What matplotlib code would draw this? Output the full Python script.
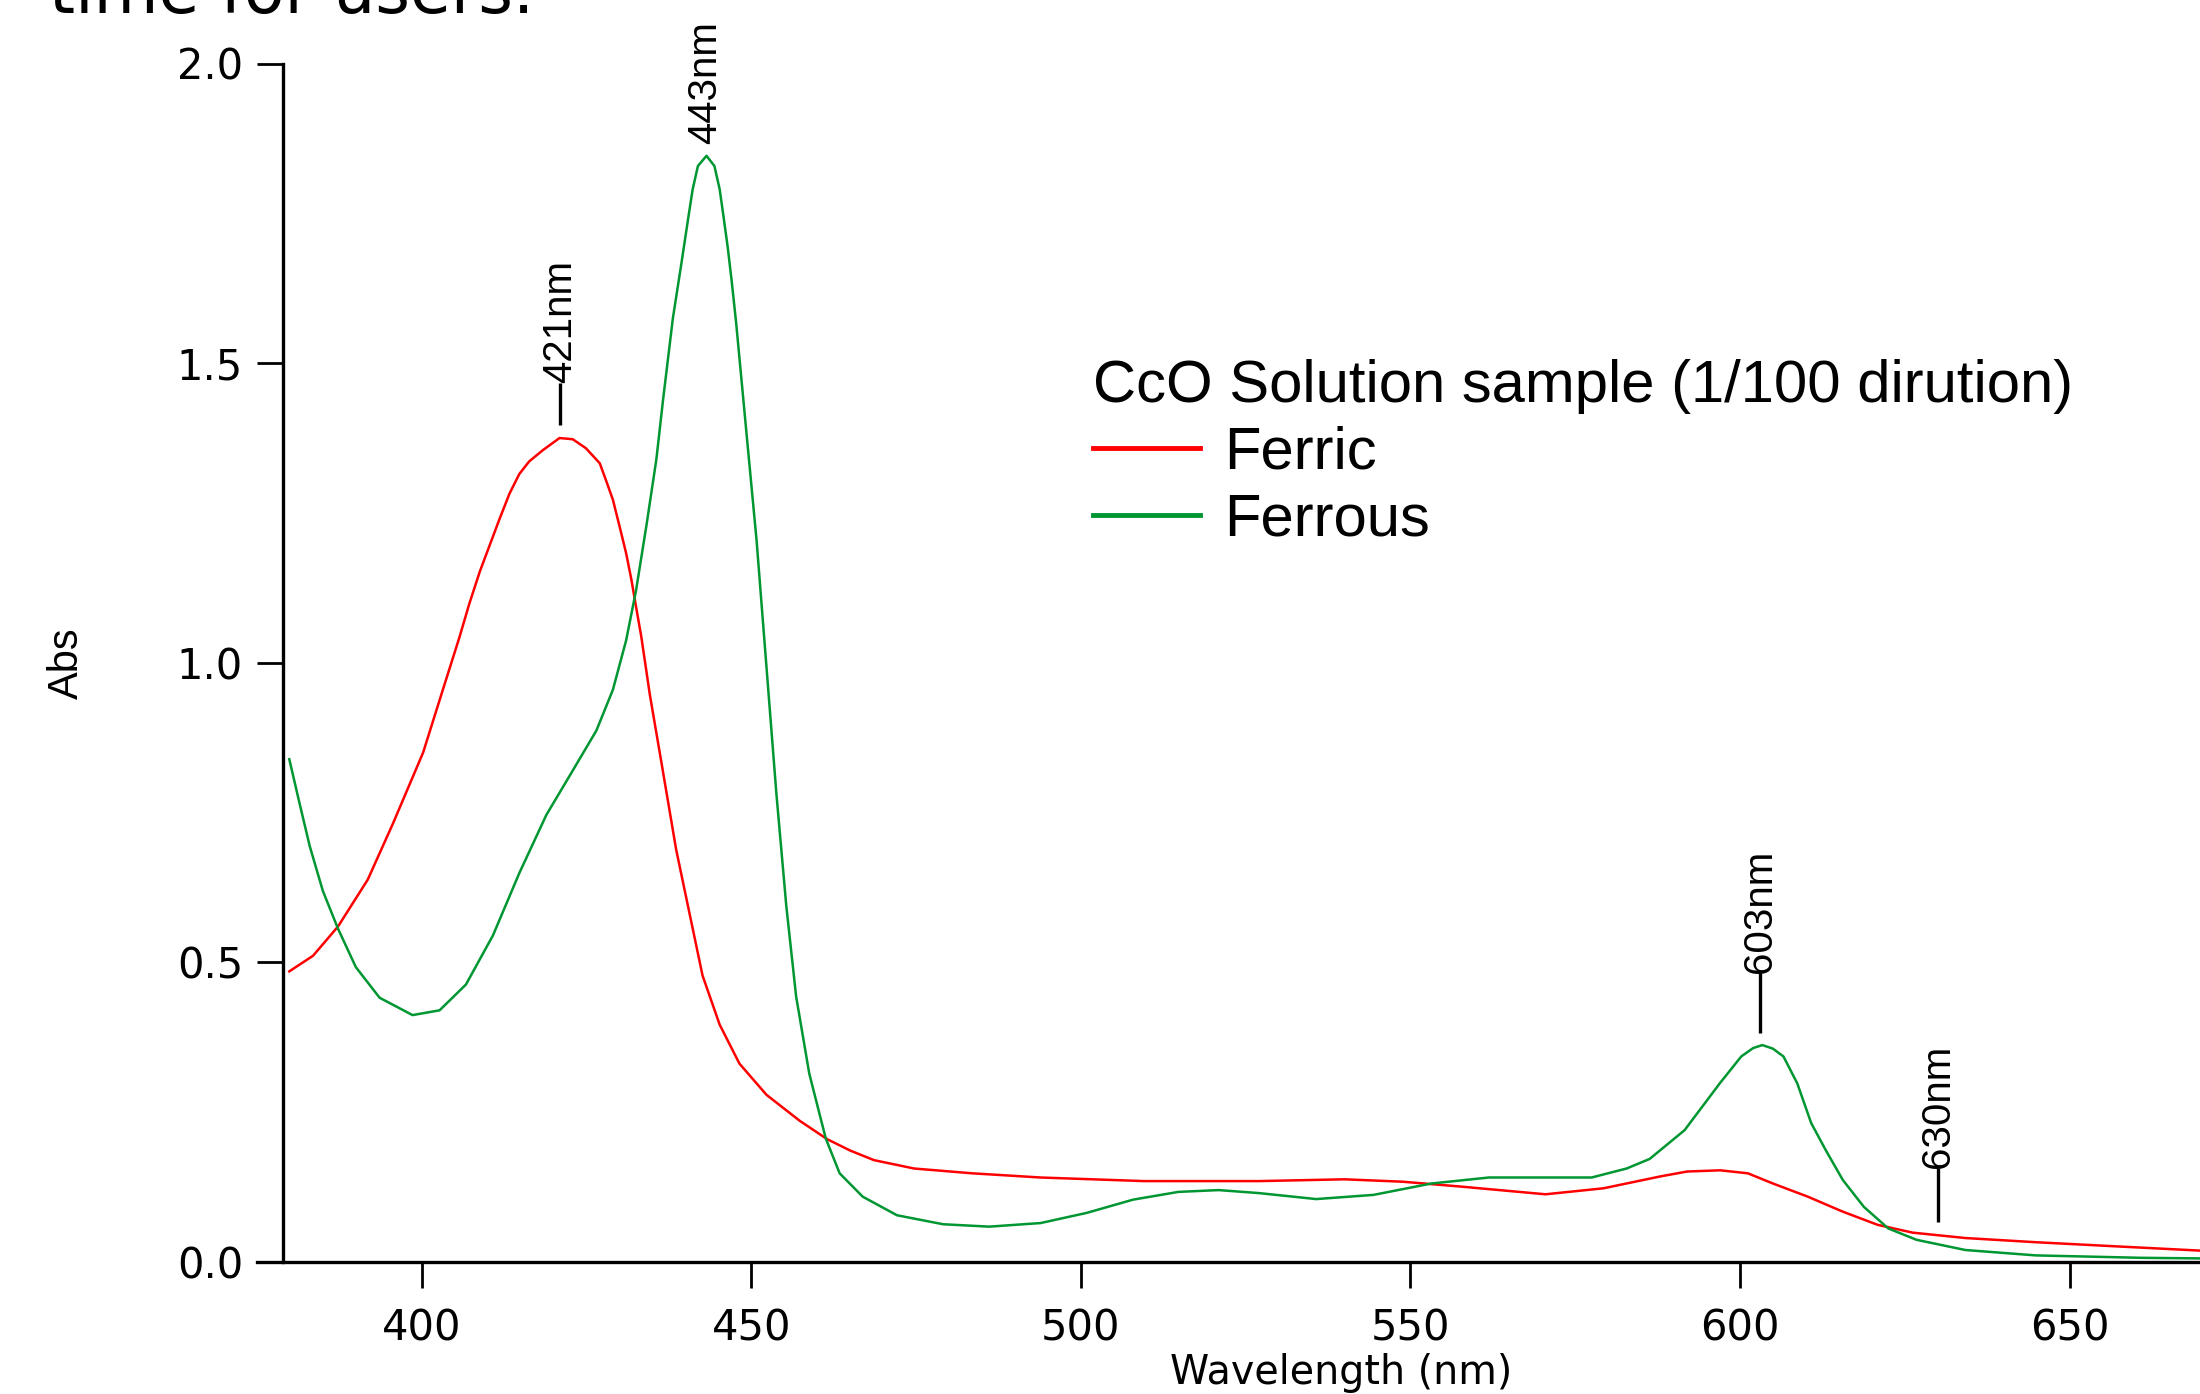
import numpy as np
import matplotlib
matplotlib.use("Agg")
import matplotlib.pyplot as plt

# Ferric (red) spectrum
ferric_nm = [379.9, 383.5, 387.3, 391.8, 395.6, 400.2, 403.2, 405.7, 407.2, 408.8,
             410.3, 411.8, 413.3, 414.8, 416.3, 418.4, 420.9, 422.9, 424.9, 427.0,
             428.0, 429.0, 430.0, 431.0, 431.8, 432.5, 433.3, 434.6, 436.6, 438.6,
             440.6, 442.6, 445.2, 448.2, 452.3, 457.3, 461.5, 465.0, 468.6, 474.7,
             483.5, 493.9, 509.6, 527.0, 540.0, 548.8, 557.5, 570.5, 579.3, 588.0,
             592.0, 597.0, 601.2, 605.0, 610.3, 615.6, 620.9, 626.2, 634.2, 644.9,
             655.5, 669.8]
ferric_abs = [0.485, 0.511, 0.560, 0.638, 0.731, 0.850, 0.955, 1.042, 1.098, 1.152,
              1.196, 1.240, 1.282, 1.315, 1.336, 1.355, 1.375, 1.373, 1.358, 1.333,
              1.303, 1.272, 1.228, 1.183, 1.139, 1.094, 1.044, 0.947, 0.818, 0.688,
              0.583, 0.478, 0.396, 0.331, 0.279, 0.236, 0.205, 0.186, 0.170, 0.156,
              0.148, 0.141, 0.135, 0.135, 0.138, 0.134, 0.126, 0.113, 0.123, 0.143,
              0.151, 0.153, 0.148, 0.131, 0.109, 0.084, 0.062, 0.049, 0.040, 0.033,
              0.027, 0.019]

# Ferrous (green) spectrum
ferrous_nm = [379.9, 381.4, 383.0, 385.0, 387.3, 390.0, 393.6, 398.6, 402.7, 406.7,
              410.8, 414.8, 418.9, 422.9, 426.5, 429.0, 431.0, 432.5, 434.1, 435.6,
              436.6, 438.1, 439.4, 440.4, 441.1, 441.9, 443.2, 444.4, 445.2, 445.7,
              446.4, 447.0, 447.7, 449.2, 450.8, 452.3, 453.8, 455.3, 456.8, 458.8,
              461.3, 463.4, 466.9, 472.1, 479.1, 486.1, 493.9, 500.9, 507.9, 514.8,
              520.9, 527.0, 535.7, 544.4, 553.2, 561.9, 570.6, 577.5, 582.8, 586.3,
              591.6, 597.0, 600.2, 602.0, 603.4, 605.0, 606.6, 608.7, 610.8, 613.0,
              615.6, 618.8, 622.5, 626.8, 634.2, 644.9, 660.9, 669.8]
ferrous_abs = [0.839, 0.768, 0.694, 0.619, 0.556, 0.492, 0.441, 0.412, 0.420, 0.463,
               0.545, 0.649, 0.746, 0.820, 0.887, 0.955, 1.037, 1.120, 1.230, 1.340,
               1.438, 1.575, 1.667, 1.740, 1.790, 1.829, 1.846, 1.829, 1.790, 1.751,
               1.695, 1.639, 1.567, 1.391, 1.204, 0.993, 0.782, 0.595, 0.443, 0.314,
               0.206, 0.148, 0.109, 0.078, 0.063, 0.059, 0.065, 0.082, 0.104, 0.117,
               0.120, 0.115, 0.105, 0.112, 0.131, 0.141, 0.141, 0.141, 0.156, 0.172,
               0.220, 0.299, 0.343, 0.357, 0.362, 0.356, 0.343, 0.298, 0.232, 0.187,
               0.137, 0.092, 0.056, 0.037, 0.020, 0.011, 0.007, 0.006]

# peak markers
peak_nm = [421, 443, 603, 630]
peak_labels = ["421nm", "443nm", "603nm", "630nm"]
peak_series = ["ferric", "ferrous", "ferrous", "ferric"]
stem_len = [0.07, 0.0, 0.10, 0.09]

x_ticks = [400, 450, 500, 550, 600, 650]
y_ticks = [0.0, 0.5, 1.0, 1.5, 2.0]

red = "#ff0000"
green = "#009632"
narrow = ["Liberation Sans Narrow", "Liberation Sans", "DejaVu Sans"]

fig = plt.figure(figsize=(22, 13.94), dpi=100)
ax = fig.add_axes([257 / 2200, 132 / 1394, 1943 / 2200, 1198.5 / 1394])

ax.plot(ferric_nm, ferric_abs, color=red, lw=1.8)
ax.plot(ferrous_nm, ferrous_abs, color=green, lw=1.8)

ax.set_xlim(375, 669.8)
ax.set_ylim(0, 2.0)
ax.spines["top"].set_visible(False)
ax.spines["right"].set_visible(False)
ax.spines["left"].set_position(("data", 379))
for s in ["left", "bottom"]:
    ax.spines[s].set_linewidth(2.4)
ax.set_xticks(x_ticks)
ax.set_yticks(y_ticks)
ax.set_yticklabels(["%.1f" % v for v in y_ticks])
ax.tick_params(axis="both", direction="out", length=19, width=2.0, labelsize=30)
ax.tick_params(axis="x", pad=14)
ax.tick_params(axis="y", pad=10)

ax.set_xlabel("Wavelength (nm)", fontsize=28.5, va="center")
ax.xaxis.set_label_coords(0.558, -0.0926)
ax.text(-0.098, 0.5, "Abs", transform=ax.transAxes, rotation=90, ha="center",
        va="center", fontsize=30, family=narrow)

series = {"ferric": (ferric_nm, ferric_abs), "ferrous": (ferrous_nm, ferrous_abs)}
for nm, lab, ser, stem in zip(peak_nm, peak_labels, peak_series, stem_len):
    xs, ys = series[ser]
    base = np.interp(nm, xs, ys) + 0.022
    if stem > 0:
        ax.plot([nm, nm], [base, base + stem], color="black", lw=2.4,
                solid_capstyle="butt")
    ax.text(nm, base + stem, lab, rotation=90, ha="center", va="bottom",
            fontsize=29, family=narrow)

h1, = ax.plot([], [], color=red, lw=3.5, label="Ferric")
h2, = ax.plot([], [], color=green, lw=3.5, label="Ferrous")
leg = ax.legend(handles=[h1, h2], title="CcO Solution sample (1/100 dirution)",
                loc="upper left", bbox_to_anchor=(1063 / 2200, 1 - 329 / 1394),
                bbox_transform=fig.transFigure, frameon=False, borderpad=0,
                handlelength=1.8, handletextpad=0.4, labelspacing=0.2,
                alignment="left", prop={"family": "Liberation Sans", "size": 43})
leg.get_title().set_fontsize(43)
leg.get_title().set_family("Liberation Sans")

# cut-off text from the page above the chart
fig.text(49 / 2200, 1 - 13 / 1394, "time for users.", fontsize=48,
         ha="left", va="baseline")

fig.savefig("out.png", dpi=100)
